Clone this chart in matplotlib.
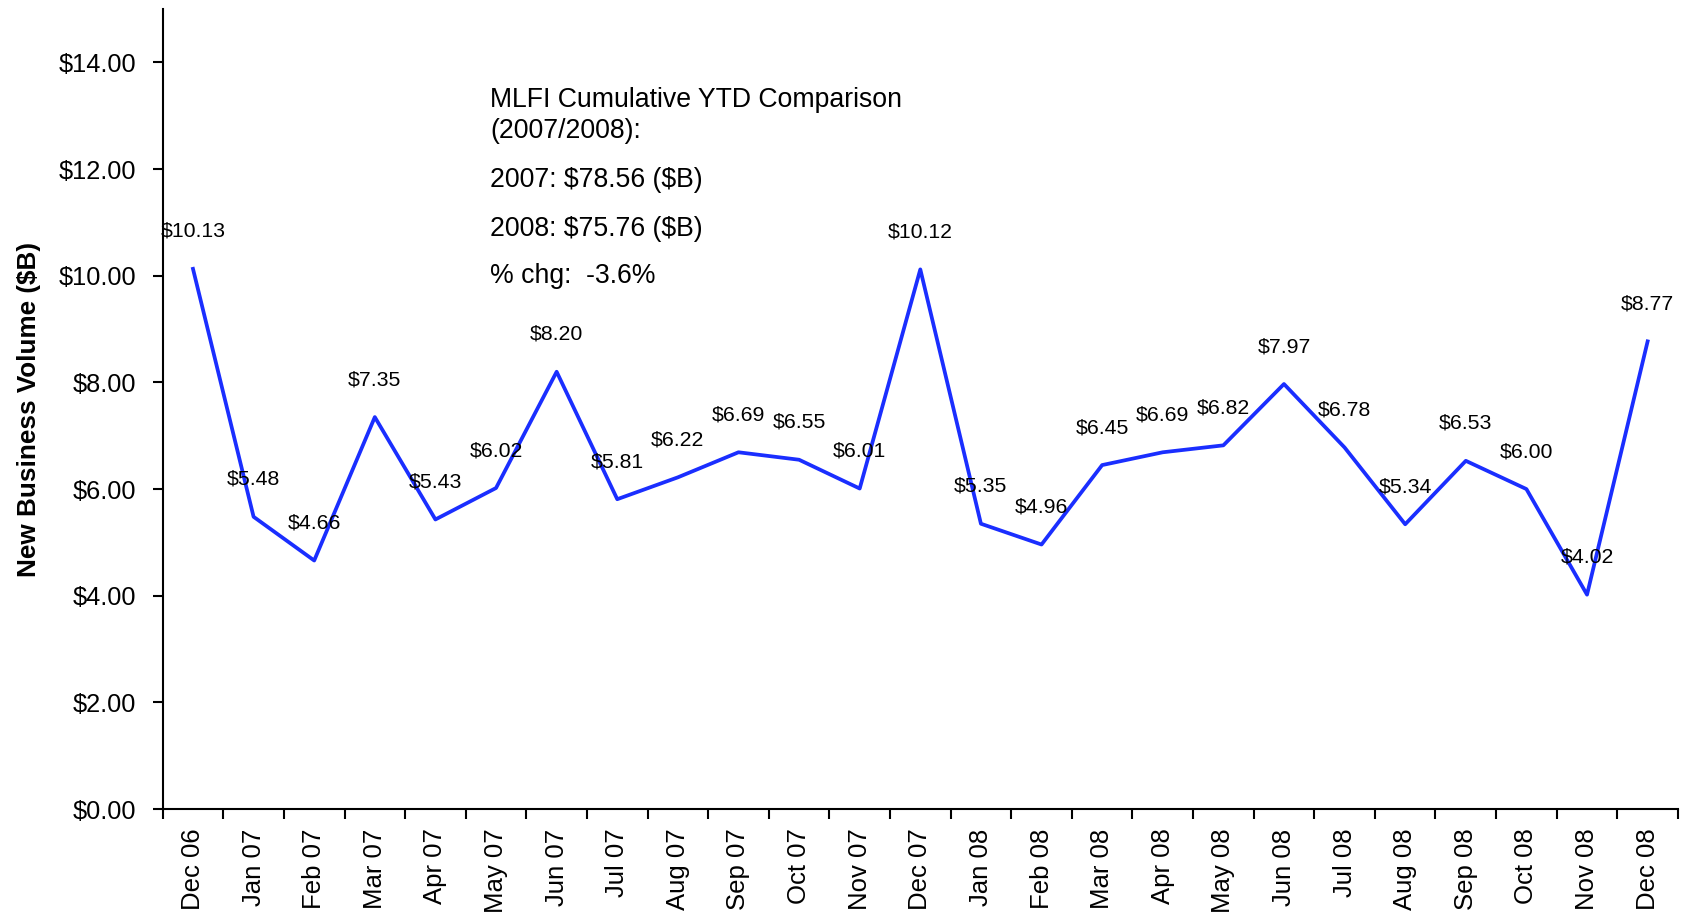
import matplotlib
matplotlib.use("Agg")
import matplotlib.pyplot as plt

plt.rcParams['font.family'] = ['Liberation Sans', 'DejaVu Sans']
plt.rcParams['text.parse_math'] = False

# Monthly new business volume ($B)
months = ["Dec 06", "Jan 07", "Feb 07", "Mar 07", "Apr 07", "May 07", "Jun 07",
          "Jul 07", "Aug 07", "Sep 07", "Oct 07", "Nov 07", "Dec 07",
          "Jan 08", "Feb 08", "Mar 08", "Apr 08", "May 08", "Jun 08",
          "Jul 08", "Aug 08", "Sep 08", "Oct 08", "Nov 08", "Dec 08"]
volume = [10.13, 5.48, 4.66, 7.35, 5.43, 6.02, 8.20,
          5.81, 6.22, 6.69, 6.55, 6.01, 10.12,
          5.35, 4.96, 6.45, 6.69, 6.82, 7.97,
          6.78, 5.34, 6.53, 6.00, 4.02, 8.77]

note_lines = ["MLFI Cumulative YTD Comparison", "(2007/2008):",
              "2007: $78.56 ($B)", "2008: $75.76 ($B)", "% chg:  -3.6%"]
note_y = [100, 131, 180, 229, 276]  # pixel rows from top

fig = plt.figure(figsize=(16.84, 9.16), dpi=100)
ax = fig.add_axes([0.0966, 0.1168, 0.8998, 0.8732])

x = list(range(len(months)))
ax.plot(x, volume, color='#1a2eff', linewidth=2.7)

# data labels above points
for xi, v in zip(x, volume):
    ax.annotate(f"${v:.2f}", (xi, v), xytext=(0, 27), textcoords='offset points',
                ha='center', va='center', fontsize=15.3)

ax.set_xlim(-0.5, len(months) - 0.5)
ax.set_ylim(0, 15)
ax.set_yticks(range(0, 15, 2))
ax.set_yticklabels([f"${t:.2f}" for t in range(0, 15, 2)], fontsize=18.3)

# category labels centred, ticks between categories
ax.set_xticks([i - 0.5 for i in range(len(months) + 1)])
ax.set_xticklabels([])
ax.set_xticks(x, minor=True)
ax.set_xticklabels(months, minor=True, rotation=90, fontsize=18.5)
ax.tick_params(axis='x', which='minor', length=0, pad=14)
ax.tick_params(axis='x', which='major', length=7, width=1.5, direction='out')
ax.tick_params(axis='y', length=7, width=1.5, direction='out', pad=12)

for s in ['top', 'right']:
    ax.spines[s].set_visible(False)
for s in ['left', 'bottom']:
    ax.spines[s].set_linewidth(1.5)

ax.set_ylabel("New Business Volume ($B)", fontsize=18.8, fontweight='bold')
ax.yaxis.set_label_coords(-0.0805, 0.5)

# YTD comparison note
for line, yp in zip(note_lines, note_y):
    fig.text(490 / 1684, 1 - yp / 916, line, fontsize=19.2, va='center', ha='left')

fig.savefig("out.png", dpi=100)
